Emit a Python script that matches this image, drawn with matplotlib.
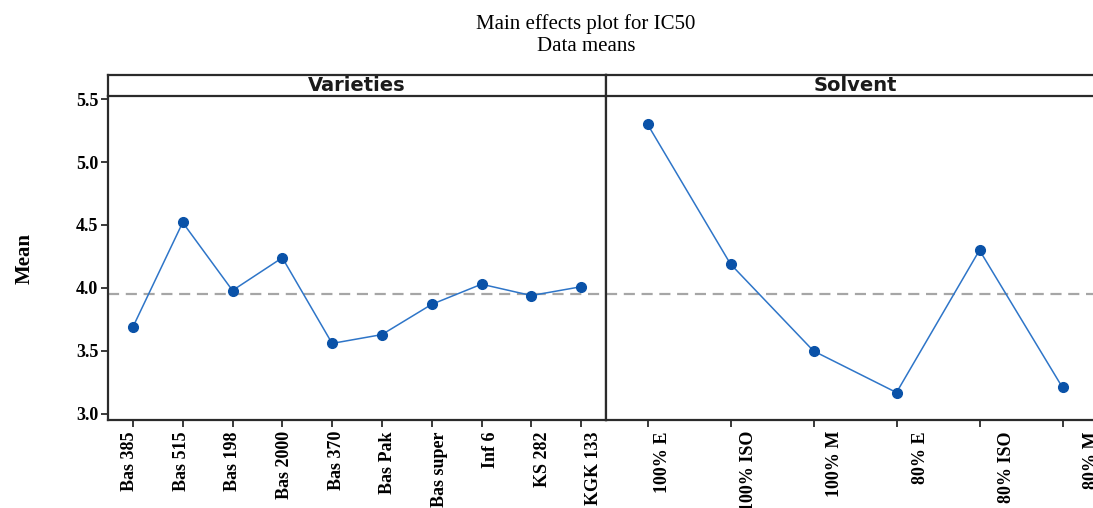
import numpy as np
import matplotlib
matplotlib.use("Agg")
import matplotlib.pyplot as plt
from matplotlib.transforms import ScaledTranslation

# data
varieties = ["Bas 385", "Bas 515", "Bas 198", "Bas 2000", "Bas 370",
             "Bas Pak", "Bas super", "Inf 6", "KS 282", "KGK 133"]
variety_means = [3.69, 4.52, 3.98, 4.24, 3.56, 3.63, 3.87, 4.03, 3.94, 4.01]
solvents = ["100% E", "100% ISO", "100% M", "80% E", "80% ISO", "80% M"]
solvent_means = [5.30, 4.19, 3.50, 3.17, 4.30, 3.21]
grand_mean = 3.95
yticks = [3.0, 3.5, 4.0, 4.5, 5.0, 5.5]

W, H = 1093, 508
fig = plt.figure(figsize=(W / 100, H / 100), dpi=100)
serif = "Liberation Serif"

fig.text(586 / W, 1 - 35 / H, "Main effects plot for IC50\nData means",
         ha="center", va="center", fontsize=15, family=serif, linespacing=1.25)

line_c = "#2e75c8"
mark_c = "#0a52a8"
frame_c = "#2b2b2b"

panels = [(108, varieties, variety_means, "Varieties"),
          (606, solvents, solvent_means, "Solvent")]
pw = 498
for i, (x0, cats, vals, title) in enumerate(panels):
    ax = fig.add_axes([x0 / W, 1 - 420 / H, pw / W, 324 / H])
    x = np.arange(len(cats))
    ax.axhline(grand_mean, color="#a6a6a6", lw=1.6, ls=(0, (5, 3)), zorder=1)
    ax.plot(x, vals, color=line_c, lw=1.1, marker="o", ms=7,
            mfc=mark_c, mec=mark_c, zorder=3)
    ax.set_xlim(-0.5, len(cats) - 0.5)
    ax.set_ylim(2.952, 5.524)
    ax.set_xticks(x)
    ax.set_xticklabels(cats, rotation=90, fontsize=13, fontweight="bold",
                       family=serif)
    ax.tick_params(axis="x", length=5, width=1.3, color=frame_c, pad=3)
    # in the original the label row is stretched a little wider than the ticks
    for xi, lab in zip(x, ax.get_xticklabels()):
        px = ax.transData.transform((xi, 0))[0]
        dx = 0.035 * px - 7.7
        lab.set_transform(lab.get_transform() +
                          ScaledTranslation(dx / 100, 0, fig.dpi_scale_trans))
    if i == 0:
        ax.set_yticks(yticks)
        ax.set_yticklabels([f"{v:.1f}" for v in yticks], fontsize=13,
                           fontweight="bold", family=serif)
        ax.tick_params(axis="y", length=5, width=1.3, color=frame_c, pad=2)
        ax.set_ylabel("Mean", fontsize=15, fontweight="bold", family=serif,
                      labelpad=30)
    else:
        ax.set_yticks([])
    ax.spines["top"].set_visible(False)
    for s in ["left", "right", "bottom"]:
        ax.spines[s].set_color(frame_c)
        ax.spines[s].set_linewidth(1.6)

    hdr = fig.add_axes([x0 / W, 1 - 96 / H, pw / W, 21 / H])
    hdr.set_xticks([])
    hdr.set_yticks([])
    for s in hdr.spines.values():
        s.set_color(frame_c)
        s.set_linewidth(1.6)
    hdr.text(0.5, 0.5, title, ha="center", va="center", fontsize=14,
             fontweight="bold", family="DejaVu Sans", color="#1a1a1a",
             transform=hdr.transAxes)

fig.savefig("out.png", dpi=100)
